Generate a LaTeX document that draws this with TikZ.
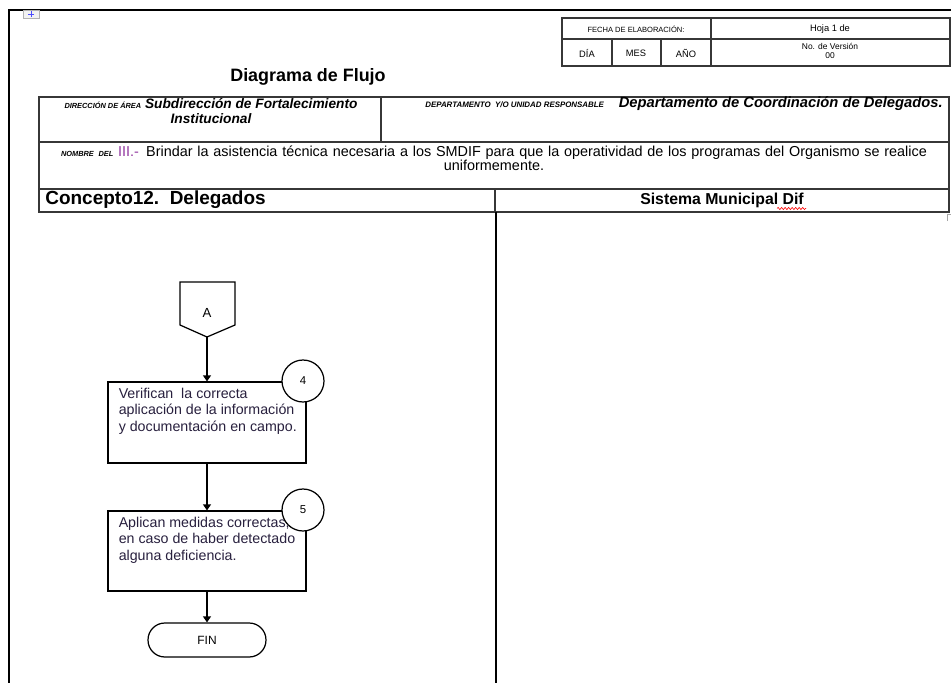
\documentclass[tikz,border=0pt]{standalone}
\usepackage{fontspec}
\setmainfont{Liberation Sans}
\usetikzlibrary{arrows.meta,decorations.pathmorphing}
\definecolor{rule}{RGB}{55,55,55}
\definecolor{ink}{RGB}{40,32,62}
\definecolor{roman}{RGB}{145,55,160}
\newcommand{\tinycap}[1]{{\fontsize{4.2}{4.5}\selectfont\bfseries\itshape #1}}

\begin{document}
\begin{tikzpicture}[x=0.02cm,y=-0.02cm,
    cell/.style={draw=rule,line width=0.8pt},
    hdr/.style={inner sep=0,font=\fontsize{5.3}{6}\selectfont},
    boxtext/.style={inner sep=0,anchor=north west,align=left,text=ink,
      font=\fontsize{8.1}{9.6}\selectfont}]
  \useasboundingbox (0,0) rectangle (951,683);

  % page frame
  \draw[line width=1.1pt] (9,683) -- (9,10) -- (951,10);
  \draw[gray!60,fill=gray!10,line width=0.4pt] (23,10) rectangle (39,18);
  \draw[blue!70,line width=0.4pt] (31,11) -- (31,17) (28,14) -- (34,14);
  \draw[gray!70,line width=0.4pt] (947,221) -- (947,214) -- (951,214);

  % fecha / hoja
  \draw[cell] (562,18) rectangle (950,66);
  \draw[cell] (562,39) -- (950,39);
  \draw[cell] (612,39) -- (612,66) (661,39) -- (661,66) (711,18) -- (711,66);
  \node[hdr,font=\fontsize{4.3}{4.5}\selectfont] (fecha) at (636,29) {FECHA DE ELABORACIÓN:};
  \node[hdr] (hoja) at (830,29) {Hoja 1 de};
  \node[hdr] (dia) at (587,53) {DÍA};
  \node[hdr] (mes) at (636,53) {MES};
  \node[hdr] (anio) at (686,53) {AÑO};
  \node[hdr,align=center,font=\fontsize{4.8}{5.4}\selectfont] (version) at (830,51) {No. de Versión\\00};

  \node[inner sep=0,font=\fontsize{10.2}{12}\selectfont\bfseries] (titulo) at (308,77) {Diagrama de Flujo};

  % datos del procedimiento
  \draw[cell] (39,97) rectangle (949,212);
  \draw[cell] (39,142) -- (949,142) (39,189) -- (949,189);
  \draw[cell] (381,97) -- (381,142) (495,189) -- (495,212);
  \node[inner sep=0,align=center,font=\fontsize{7.8}{8.5}\selectfont\bfseries\itshape] (area) at (211,111.5)
    {\tinycap{DIRECCIÓN DE ÁREA} Subdirección de Fortalecimiento\\Institucional};
  \node[inner sep=0,anchor=west,font=\fontsize{8.4}{8.5}\selectfont\bfseries\itshape] (depto) at (425,104)
    {{\fontsize{4.5}{4.5}\selectfont DEPARTAMENTO \ Y/O UNIDAD RESPONSABLE}\quad Departamento de Coordinación de Delegados.};
  \node[inner sep=0,text width=17.96cm,align=center,font=\fontsize{8.2}{8}\selectfont] (nombre) at (494,158)
    {\tinycap{NOMBRE DEL} {\color{roman}III.-}\, Brindar la asistencia técnica necesaria a los SMDIF para que la operatividad de los programas del Organismo se realice\\uniformemente.};
  \node[inner sep=0,anchor=west,font=\fontsize{10.8}{12}\selectfont\bfseries] (concepto) at (45,200) {Concepto12.\ \ Delegados};
  \node[inner sep=0,font=\fontsize{9}{10}\selectfont\bfseries] (sistema) at (722,200) {Sistema Municipal Dif};
  \draw[red,line width=0.35pt,decorate,decoration={snake,amplitude=0.6pt,segment length=2pt}] (777,208.5) -- (806,208.5);

  % carriles
  \draw[line width=0.9pt] (496,212) -- (496,683);

  % diagrama
  \draw[line width=0.7pt] (180,282) -- (235,282) -- (235,325) -- (207,337) -- (180,325) -- cycle;
  \coordinate (Atip) at (207,337);
  \node[inner sep=0,font=\fontsize{7.5}{9}\selectfont] (A) at (207,313) {A};

  \begin{scope}[every node/.style={draw,line width=0.7pt,fill=white}]
    \node[minimum width=3.96cm,minimum height=1.62cm] (p4) at (207,422.5) {};
    \node[minimum width=3.96cm,minimum height=1.6cm] (p5) at (207,551) {};
    \node[rounded corners=9.6pt,minimum width=2.36cm,minimum height=0.68cm,
      font=\fontsize{6.8}{7}\selectfont] (fin) at (207,640) {FIN};
  \end{scope}

  \node[boxtext] at ([shift={(11,6)}]p4.north west)
    {Verifican\ \ la correcta\\aplicación de la información\\y documentación en campo.};
  \node[boxtext] at ([shift={(11,6)}]p5.north west)
    {Aplican medidas correctas,\\en caso de haber detectado\\alguna deficiencia.};

  \begin{scope}[every node/.style={circle,draw,line width=0.7pt,fill=white,minimum size=0.84cm,inner sep=0,
      font=\fontsize{6.5}{7}\selectfont}]
    \node (4) at (303,381) {4};
    \node (5) at (303,510) {5};
  \end{scope}

  \begin{scope}[>={Triangle[length=3.4pt,width=4.5pt]},
      every edge/.style={draw=black,line width=0.7pt}]
    \path [->] (Atip) edge (p4);
    \path [->] (p4) edge (p5);
    \path [->] (p5) edge (fin);
  \end{scope}
\end{tikzpicture}
\end{document}
